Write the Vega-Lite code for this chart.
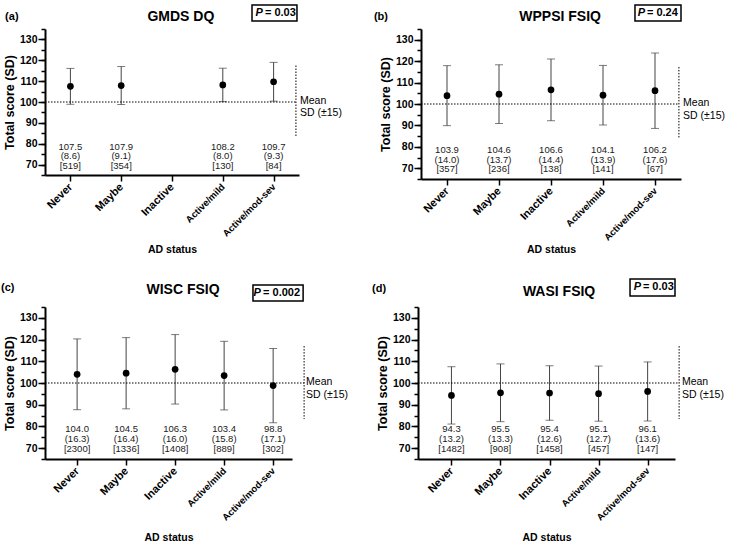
{
  "$schema": "https://vega.github.io/schema/vega-lite/v6.json",
  "padding": {"left": 1, "top": 4, "right": 2, "bottom": 2},
  "config": {
    "font": "Liberation Sans",
    "view": {"stroke": null},
    "axis": {"domainColor": "black", "tickColor": "black", "labelColor": "black", "titleColor": "black", "grid": false},
    "axisX": {"labelAngle": -45, "labelAlign": "right", "labelBaseline": "middle", "labelFontWeight": "bold",
      "labelPadding": 4, "tickSize": 6, "tickWidth": 1.5, "domainWidth": 2, "labelOverlap": false,
      "titleFontSize": 10.5, "titleFontWeight": "bold", "titlePadding": 7},
    "axisY": {"labelOverlap": false, "tickWidth": 1.5, "domainWidth": 2, "labelFontSize": 10.5, "labelFontWeight": "bold", "labelPadding": 1,
      "titleFontSize": 12.5, "titleFontWeight": "bold", "titlePadding": 3, "tickSize": 7},
    "text": {"font": "Liberation Sans"}
  },
  "spacing": 22,
  "vconcat": [
    {
      "spacing": 31,
      "hconcat": [
        {
          "width": 254, "height": 146,
          "resolve": {"scale": {"x": "independent"}, "axis": {"x": "independent", "y": "independent"}},
          "layer": [
            {
              "data": {"values": [
                {"cat": "Never", "mean": 107.5, "sd": 8.6, "n": 519, "lo": 98.9, "hi": 116.1, "lab": ["107.5", "(8.6)", "[519]"]},
                {"cat": "Maybe", "mean": 107.9, "sd": 9.1, "n": 354, "lo": 98.8, "hi": 117.0, "lab": ["107.9", "(9.1)", "[354]"]},
                {"cat": "Active/mild", "mean": 108.2, "sd": 8.0, "n": 130, "lo": 100.2, "hi": 116.2, "lab": ["108.2", "(8.0)", "[130]"]},
                {"cat": "Active/mod-sev", "mean": 109.7, "sd": 9.3, "n": 84, "lo": 100.4, "hi": 119.0, "lab": ["109.7", "(9.3)", "[84]"]}
              ]},
              "encoding": {
                "x": {"field": "cat", "type": "nominal", "title": "AD status",
                  "scale": {"type": "point", "domain": ["Never", "Maybe", "Inactive", "Active/mild", "Active/mod-sev"], "padding": 0.5, "align": 0.5},
                  "axis": {"labelFontSize": {"condition": {"test": "indexof(datum.value, 'Active') === 0", "value": 9.5}, "value": 11}}}
              },
              "layer": [
                {"mark": {"type": "rule", "color": "#444", "strokeWidth": 1},
                 "encoding": {"y": {"field": "lo", "type": "quantitative", "title": "Total score (SD)", "scale": {"domain": [65, 135]},
                   "axis": {"tickCount": 7, "labelOverlap": false}},
                   "y2": {"field": "hi"}}},
                {"mark": {"type": "tick", "orient": "horizontal", "size": 8, "thickness": 1, "color": "#444"},
                 "encoding": {"y": {"field": "lo", "type": "quantitative"}}},
                {"mark": {"type": "tick", "orient": "horizontal", "size": 8, "thickness": 1, "color": "#444"},
                 "encoding": {"y": {"field": "hi", "type": "quantitative"}}},
                {"mark": {"type": "circle", "size": 45, "color": "black", "opacity": 1},
                 "encoding": {"y": {"field": "mean", "type": "quantitative"}}},
                {"mark": {"type": "text", "fontSize": 9.5, "baseline": "top", "lineHeight": 9.8, "color": "#1a1a1a"},
                 "encoding": {"y": {"datum": 81, "type": "quantitative"}, "text": {"field": "lab", "type": "nominal"}}}
              ]
            },
            {
              "data": {"values": [{}]},
              "layer": [
                {"mark": {"type": "rule", "strokeDash": [1.5, 1.5], "strokeWidth": 1, "color": "black"},
                 "encoding": {"x": {"datum": 0, "type": "quantitative", "scale": {"domain": [0, 1]}, "axis": null}, "x2": {"datum": 0.988},
                   "y": {"datum": 100, "type": "quantitative", "axis": {"orient": "left", "tickCount": 14, "labels": false, "domain": false, "tickSize": 4, "title": null}}}},
                {"mark": {"type": "rule", "strokeDash": [1.5, 1.5], "strokeWidth": 1, "color": "black"},
                 "encoding": {"x": {"datum": 0.988, "type": "quantitative", "axis": null}, "y": {"datum": 117.5, "type": "quantitative"}, "y2": {"datum": 83.5}}},
                {"mark": {"type": "text", "align": "left", "baseline": "middle", "fontSize": 10.5, "color": "black"},
                 "encoding": {"x": {"datum": 1.004, "type": "quantitative", "axis": null}, "y": {"datum": 100.3, "type": "quantitative"}, "text": {"value": "Mean"}}},
                {"mark": {"type": "text", "align": "left", "baseline": "middle", "fontSize": 10.5, "color": "black"},
                 "encoding": {"x": {"datum": 1.004, "type": "quantitative", "axis": null}, "y": {"datum": 94.6, "type": "quantitative"}, "text": {"value": "SD (±15)"}}},
                {"mark": {"type": "text", "align": "left", "baseline": "middle", "fontSize": 11, "fontWeight": "bold", "color": "black"},
                 "encoding": {"x": {"datum": -0.157, "type": "quantitative", "axis": null}, "y": {"datum": 140.75, "type": "quantitative"}, "text": {"value": "(a)"}}},
                {"mark": {"type": "text", "align": "center", "baseline": "middle", "fontSize": 14, "fontWeight": "bold", "color": "black"},
                 "encoding": {"x": {"datum": 0.535, "type": "quantitative", "axis": null}, "y": {"datum": 140.9, "type": "quantitative"}, "text": {"value": "GMDS DQ"}}},
                {"mark": {"type": "rect", "fill": "white", "stroke": "black", "strokeWidth": 1.5},
                 "encoding": {"x": {"datum": 0.815, "type": "quantitative", "axis": null}, "x2": {"datum": 0.992}, "y": {"datum": 146.5, "type": "quantitative"}, "y2": {"datum": 138.8}}},
                {"mark": {"type": "text", "align": "right", "baseline": "middle", "fontSize": 11, "fontWeight": "bold", "fontStyle": "italic", "color": "black"},
                 "encoding": {"x": {"datum": 0.858, "type": "quantitative", "axis": null}, "y": {"datum": 142.7, "type": "quantitative"}, "text": {"value": "P"}}},
                {"mark": {"type": "text", "align": "left", "baseline": "middle", "fontSize": 11, "fontWeight": "bold", "color": "black"},
                 "encoding": {"x": {"datum": 0.866, "type": "quantitative", "axis": null}, "y": {"datum": 142.7, "type": "quantitative"}, "text": {"value": "= 0.03"}}}
              ]
            }
          ]
        },
        {
          "width": 260, "height": 150,
          "resolve": {"scale": {"x": "independent"}, "axis": {"x": "independent", "y": "independent"}},
          "layer": [
            {
              "data": {"values": [
                {"cat": "Never", "mean": 103.9, "sd": 14.0, "n": 357, "lo": 89.9, "hi": 117.9, "lab": ["103.9", "(14.0)", "[357]"]},
                {"cat": "Maybe", "mean": 104.6, "sd": 13.7, "n": 236, "lo": 90.9, "hi": 118.3, "lab": ["104.6", "(13.7)", "[236]"]},
                {"cat": "Inactive", "mean": 106.6, "sd": 14.4, "n": 138, "lo": 92.2, "hi": 121.0, "lab": ["106.6", "(14.4)", "[138]"]},
                {"cat": "Active/mild", "mean": 104.1, "sd": 13.9, "n": 141, "lo": 90.2, "hi": 118.0, "lab": ["104.1", "(13.9)", "[141]"]},
                {"cat": "Active/mod-sev", "mean": 106.2, "sd": 17.6, "n": 67, "lo": 88.6, "hi": 123.8, "lab": ["106.2", "(17.6)", "[67]"]}
              ]},
              "encoding": {
                "x": {"field": "cat", "type": "nominal", "title": "AD status",
                  "scale": {"type": "point", "domain": ["Never", "Maybe", "Inactive", "Active/mild", "Active/mod-sev"], "padding": 0.5, "align": 0.5},
                  "axis": {"titlePadding": 3, "labelFontSize": {"condition": {"test": "indexof(datum.value, 'Active') === 0", "value": 9.5}, "value": 11}}}
              },
              "layer": [
                {"mark": {"type": "rule", "color": "#444", "strokeWidth": 1},
                 "encoding": {"y": {"field": "lo", "type": "quantitative", "title": "Total score (SD)", "scale": {"domain": [65, 135]},
                   "axis": {"tickCount": 7, "labelOverlap": false}},
                   "y2": {"field": "hi"}}},
                {"mark": {"type": "tick", "orient": "horizontal", "size": 8, "thickness": 1, "color": "#444"},
                 "encoding": {"y": {"field": "lo", "type": "quantitative"}}},
                {"mark": {"type": "tick", "orient": "horizontal", "size": 8, "thickness": 1, "color": "#444"},
                 "encoding": {"y": {"field": "hi", "type": "quantitative"}}},
                {"mark": {"type": "circle", "size": 45, "color": "black", "opacity": 1},
                 "encoding": {"y": {"field": "mean", "type": "quantitative"}}},
                {"mark": {"type": "text", "fontSize": 9.5, "baseline": "top", "lineHeight": 9.8, "color": "#1a1a1a"},
                 "encoding": {"y": {"datum": 81, "type": "quantitative"}, "text": {"field": "lab", "type": "nominal"}}}
              ]
            },
            {
              "data": {"values": [{}]},
              "layer": [
                {"mark": {"type": "rule", "strokeDash": [1.5, 1.5], "strokeWidth": 1, "color": "black"},
                 "encoding": {"x": {"datum": 0, "type": "quantitative", "scale": {"domain": [0, 1]}, "axis": null}, "x2": {"datum": 0.992},
                   "y": {"datum": 100, "type": "quantitative", "axis": {"orient": "left", "tickCount": 14, "labels": false, "domain": false, "tickSize": 4, "title": null}}}},
                {"mark": {"type": "rule", "strokeDash": [1.5, 1.5], "strokeWidth": 1, "color": "black"},
                 "encoding": {"x": {"datum": 0.992, "type": "quantitative", "axis": null}, "y": {"datum": 117.3, "type": "quantitative"}, "y2": {"datum": 84.1}}},
                {"mark": {"type": "text", "align": "left", "baseline": "middle", "fontSize": 10.5, "color": "black"},
                 "encoding": {"x": {"datum": 1.008, "type": "quantitative", "axis": null}, "y": {"datum": 100.3, "type": "quantitative"}, "text": {"value": "Mean"}}},
                {"mark": {"type": "text", "align": "left", "baseline": "middle", "fontSize": 10.5, "color": "black"},
                 "encoding": {"x": {"datum": 1.008, "type": "quantitative", "axis": null}, "y": {"datum": 94.6, "type": "quantitative"}, "text": {"value": "SD (±15)"}}},
                {"mark": {"type": "text", "align": "left", "baseline": "middle", "fontSize": 11, "fontWeight": "bold", "color": "black"},
                 "encoding": {"x": {"datum": -0.181, "type": "quantitative", "axis": null}, "y": {"datum": 140.6, "type": "quantitative"}, "text": {"value": "(b)"}}},
                {"mark": {"type": "text", "align": "center", "baseline": "middle", "fontSize": 14, "fontWeight": "bold", "color": "black"},
                 "encoding": {"x": {"datum": 0.535, "type": "quantitative", "axis": null}, "y": {"datum": 140.8, "type": "quantitative"}, "text": {"value": "WPPSI FSIQ"}}},
                {"mark": {"type": "rect", "fill": "white", "stroke": "black", "strokeWidth": 1.5},
                 "encoding": {"x": {"datum": 0.823, "type": "quantitative", "axis": null}, "x2": {"datum": 1.0}, "y": {"datum": 146.2, "type": "quantitative"}, "y2": {"datum": 138.7}}},
                {"mark": {"type": "text", "align": "right", "baseline": "middle", "fontSize": 11, "fontWeight": "bold", "fontStyle": "italic", "color": "black"},
                 "encoding": {"x": {"datum": 0.862, "type": "quantitative", "axis": null}, "y": {"datum": 142.5, "type": "quantitative"}, "text": {"value": "P"}}},
                {"mark": {"type": "text", "align": "left", "baseline": "middle", "fontSize": 11, "fontWeight": "bold", "color": "black"},
                 "encoding": {"x": {"datum": 0.869, "type": "quantitative", "axis": null}, "y": {"datum": 142.5, "type": "quantitative"}, "text": {"value": "= 0.24"}}}
              ]
            }
          ]
        }
      ]
    },
    {
      "spacing": 22,
      "hconcat": [
        {
          "width": 247, "height": 152,
          "resolve": {"scale": {"x": "independent"}, "axis": {"x": "independent", "y": "independent"}},
          "layer": [
            {
              "data": {"values": [
                {"cat": "Never", "mean": 104.0, "sd": 16.3, "n": 2300, "lo": 87.7, "hi": 120.3, "lab": ["104.0", "(16.3)", "[2300]"]},
                {"cat": "Maybe", "mean": 104.5, "sd": 16.4, "n": 1336, "lo": 88.1, "hi": 120.9, "lab": ["104.5", "(16.4)", "[1336]"]},
                {"cat": "Inactive", "mean": 106.3, "sd": 16.0, "n": 1408, "lo": 90.3, "hi": 122.3, "lab": ["106.3", "(16.0)", "[1408]"]},
                {"cat": "Active/mild", "mean": 103.4, "sd": 15.8, "n": 889, "lo": 87.6, "hi": 119.2, "lab": ["103.4", "(15.8)", "[889]"]},
                {"cat": "Active/mod-sev", "mean": 98.8, "sd": 17.1, "n": 302, "lo": 81.7, "hi": 115.9, "lab": ["98.8", "(17.1)", "[302]"]}
              ]},
              "encoding": {
                "x": {"field": "cat", "type": "nominal", "title": "AD status",
                  "scale": {"type": "point", "domain": ["Never", "Maybe", "Inactive", "Active/mild", "Active/mod-sev"], "padding": 0.52, "align": 0.63},
                  "axis": {"titlePadding": 11, "labelFontSize": {"condition": {"test": "indexof(datum.value, 'Active') === 0", "value": 9.5}, "value": 11}}}
              },
              "layer": [
                {"mark": {"type": "rule", "color": "#444", "strokeWidth": 1},
                 "encoding": {"y": {"field": "lo", "type": "quantitative", "title": "Total score (SD)", "scale": {"domain": [65, 135]},
                   "axis": {"tickCount": 7, "labelOverlap": false}},
                   "y2": {"field": "hi"}}},
                {"mark": {"type": "tick", "orient": "horizontal", "size": 8, "thickness": 1, "color": "#444"},
                 "encoding": {"y": {"field": "lo", "type": "quantitative"}}},
                {"mark": {"type": "tick", "orient": "horizontal", "size": 8, "thickness": 1, "color": "#444"},
                 "encoding": {"y": {"field": "hi", "type": "quantitative"}}},
                {"mark": {"type": "circle", "size": 45, "color": "black", "opacity": 1},
                 "encoding": {"y": {"field": "mean", "type": "quantitative"}}},
                {"mark": {"type": "text", "fontSize": 9.5, "baseline": "top", "lineHeight": 9.8, "color": "#1a1a1a"},
                 "encoding": {"y": {"datum": 81, "type": "quantitative"}, "text": {"field": "lab", "type": "nominal"}}}
              ]
            },
            {
              "data": {"values": [{}]},
              "layer": [
                {"mark": {"type": "rule", "strokeDash": [1.5, 1.5], "strokeWidth": 1, "color": "black"},
                 "encoding": {"x": {"datum": 0, "type": "quantitative", "scale": {"domain": [0, 1]}, "axis": null}, "x2": {"datum": 1.049},
                   "y": {"datum": 100, "type": "quantitative", "axis": {"orient": "left", "tickCount": 14, "labels": false, "domain": false, "tickSize": 4, "title": null}}}},
                {"mark": {"type": "rule", "strokeDash": [1.5, 1.5], "strokeWidth": 1, "color": "black"},
                 "encoding": {"x": {"datum": 1.049, "type": "quantitative", "axis": null}, "y": {"datum": 117.0, "type": "quantitative"}, "y2": {"datum": 83.4}}},
                {"mark": {"type": "text", "align": "left", "baseline": "middle", "fontSize": 10.5, "color": "black"},
                 "encoding": {"x": {"datum": 1.057, "type": "quantitative", "axis": null}, "y": {"datum": 100.3, "type": "quantitative"}, "text": {"value": "Mean"}}},
                {"mark": {"type": "text", "align": "left", "baseline": "middle", "fontSize": 10.5, "color": "black"},
                 "encoding": {"x": {"datum": 1.057, "type": "quantitative", "axis": null}, "y": {"datum": 94.6, "type": "quantitative"}, "text": {"value": "SD (±15)"}}},
                {"mark": {"type": "text", "align": "left", "baseline": "middle", "fontSize": 11, "fontWeight": "bold", "color": "black"},
                 "encoding": {"x": {"datum": -0.178, "type": "quantitative", "axis": null}, "y": {"datum": 143.8, "type": "quantitative"}, "text": {"value": "(c)"}}},
                {"mark": {"type": "text", "align": "center", "baseline": "middle", "fontSize": 14, "fontWeight": "bold", "color": "black"},
                 "encoding": {"x": {"datum": 0.559, "type": "quantitative", "axis": null}, "y": {"datum": 142.6, "type": "quantitative"}, "text": {"value": "WISC FSIQ"}}},
                {"mark": {"type": "rect", "fill": "white", "stroke": "black", "strokeWidth": 1.5},
                 "encoding": {"x": {"datum": 0.842, "type": "quantitative", "axis": null}, "x2": {"datum": 1.045}, "y": {"datum": 145.1, "type": "quantitative"}, "y2": {"datum": 137.8}}},
                {"mark": {"type": "text", "align": "right", "baseline": "middle", "fontSize": 11, "fontWeight": "bold", "fontStyle": "italic", "color": "black"},
                 "encoding": {"x": {"datum": 0.874, "type": "quantitative", "axis": null}, "y": {"datum": 141.4, "type": "quantitative"}, "text": {"value": "P"}}},
                {"mark": {"type": "text", "align": "left", "baseline": "middle", "fontSize": 11, "fontWeight": "bold", "color": "black"},
                 "encoding": {"x": {"datum": 0.883, "type": "quantitative", "axis": null}, "y": {"datum": 141.4, "type": "quantitative"}, "text": {"value": "= 0.002"}}}
              ]
            }
          ]
        },
        {
          "width": 257, "height": 152,
          "resolve": {"scale": {"x": "independent"}, "axis": {"x": "independent", "y": "independent"}},
          "layer": [
            {
              "data": {"values": [
                {"cat": "Never", "mean": 94.3, "sd": 13.2, "n": 1482, "lo": 81.1, "hi": 107.5, "lab": ["94.3", "(13.2)", "[1482]"]},
                {"cat": "Maybe", "mean": 95.5, "sd": 13.3, "n": 908, "lo": 82.2, "hi": 108.8, "lab": ["95.5", "(13.3)", "[908]"]},
                {"cat": "Inactive", "mean": 95.4, "sd": 12.6, "n": 1458, "lo": 82.8, "hi": 108.0, "lab": ["95.4", "(12.6)", "[1458]"]},
                {"cat": "Active/mild", "mean": 95.1, "sd": 12.7, "n": 457, "lo": 82.4, "hi": 107.8, "lab": ["95.1", "(12.7)", "[457]"]},
                {"cat": "Active/mod-sev", "mean": 96.1, "sd": 13.6, "n": 147, "lo": 82.5, "hi": 109.7, "lab": ["96.1", "(13.6)", "[147]"]}
              ]},
              "encoding": {
                "x": {"field": "cat", "type": "nominal", "title": "AD status",
                  "scale": {"type": "point", "domain": ["Never", "Maybe", "Inactive", "Active/mild", "Active/mod-sev"], "padding": 0.62, "align": 0.55},
                  "axis": {"titlePadding": 11, "labelFontSize": {"condition": {"test": "indexof(datum.value, 'Active') === 0", "value": 9.5}, "value": 11}}}
              },
              "layer": [
                {"mark": {"type": "rule", "color": "#444", "strokeWidth": 1},
                 "encoding": {"y": {"field": "lo", "type": "quantitative", "title": "Total score (SD)", "scale": {"domain": [65, 135]},
                   "axis": {"tickCount": 7, "labelOverlap": false}},
                   "y2": {"field": "hi"}}},
                {"mark": {"type": "tick", "orient": "horizontal", "size": 8, "thickness": 1, "color": "#444"},
                 "encoding": {"y": {"field": "lo", "type": "quantitative"}}},
                {"mark": {"type": "tick", "orient": "horizontal", "size": 8, "thickness": 1, "color": "#444"},
                 "encoding": {"y": {"field": "hi", "type": "quantitative"}}},
                {"mark": {"type": "circle", "size": 45, "color": "black", "opacity": 1},
                 "encoding": {"y": {"field": "mean", "type": "quantitative"}}},
                {"mark": {"type": "text", "fontSize": 9.5, "baseline": "top", "lineHeight": 9.8, "color": "#1a1a1a"},
                 "encoding": {"y": {"datum": 81, "type": "quantitative"}, "text": {"field": "lab", "type": "nominal"}}}
              ]
            },
            {
              "data": {"values": [{}]},
              "layer": [
                {"mark": {"type": "rule", "strokeDash": [1.5, 1.5], "strokeWidth": 1, "color": "black"},
                 "encoding": {"x": {"datum": 0, "type": "quantitative", "scale": {"domain": [0, 1]}, "axis": null}, "x2": {"datum": 1.016},
                   "y": {"datum": 100, "type": "quantitative", "axis": {"orient": "left", "tickCount": 14, "labels": false, "domain": false, "tickSize": 4, "title": null}}}},
                {"mark": {"type": "rule", "strokeDash": [1.5, 1.5], "strokeWidth": 1, "color": "black"},
                 "encoding": {"x": {"datum": 1.016, "type": "quantitative", "axis": null}, "y": {"datum": 117.0, "type": "quantitative"}, "y2": {"datum": 83.4}}},
                {"mark": {"type": "text", "align": "left", "baseline": "middle", "fontSize": 10.5, "color": "black"},
                 "encoding": {"x": {"datum": 1.027, "type": "quantitative", "axis": null}, "y": {"datum": 100.3, "type": "quantitative"}, "text": {"value": "Mean"}}},
                {"mark": {"type": "text", "align": "left", "baseline": "middle", "fontSize": 10.5, "color": "black"},
                 "encoding": {"x": {"datum": 1.027, "type": "quantitative", "axis": null}, "y": {"datum": 94.6, "type": "quantitative"}, "text": {"value": "SD (±15)"}}},
                {"mark": {"type": "text", "align": "left", "baseline": "middle", "fontSize": 11, "fontWeight": "bold", "color": "black"},
                 "encoding": {"x": {"datum": -0.179, "type": "quantitative", "axis": null}, "y": {"datum": 143.1, "type": "quantitative"}, "text": {"value": "(d)"}}},
                {"mark": {"type": "text", "align": "center", "baseline": "middle", "fontSize": 14, "fontWeight": "bold", "color": "black"},
                 "encoding": {"x": {"datum": 0.549, "type": "quantitative", "axis": null}, "y": {"datum": 141.9, "type": "quantitative"}, "text": {"value": "WASI FSIQ"}}},
                {"mark": {"type": "rect", "fill": "white", "stroke": "black", "strokeWidth": 1.5},
                 "encoding": {"x": {"datum": 0.825, "type": "quantitative", "axis": null}, "x2": {"datum": 1.0}, "y": {"datum": 147.9, "type": "quantitative"}, "y2": {"datum": 140.1}}},
                {"mark": {"type": "text", "align": "right", "baseline": "middle", "fontSize": 11, "fontWeight": "bold", "fontStyle": "italic", "color": "black"},
                 "encoding": {"x": {"datum": 0.868, "type": "quantitative", "axis": null}, "y": {"datum": 144.0, "type": "quantitative"}, "text": {"value": "P"}}},
                {"mark": {"type": "text", "align": "left", "baseline": "middle", "fontSize": 11, "fontWeight": "bold", "color": "black"},
                 "encoding": {"x": {"datum": 0.875, "type": "quantitative", "axis": null}, "y": {"datum": 144.0, "type": "quantitative"}, "text": {"value": "= 0.03"}}}
              ]
            }
          ]
        }
      ]
    }
  ]
}
